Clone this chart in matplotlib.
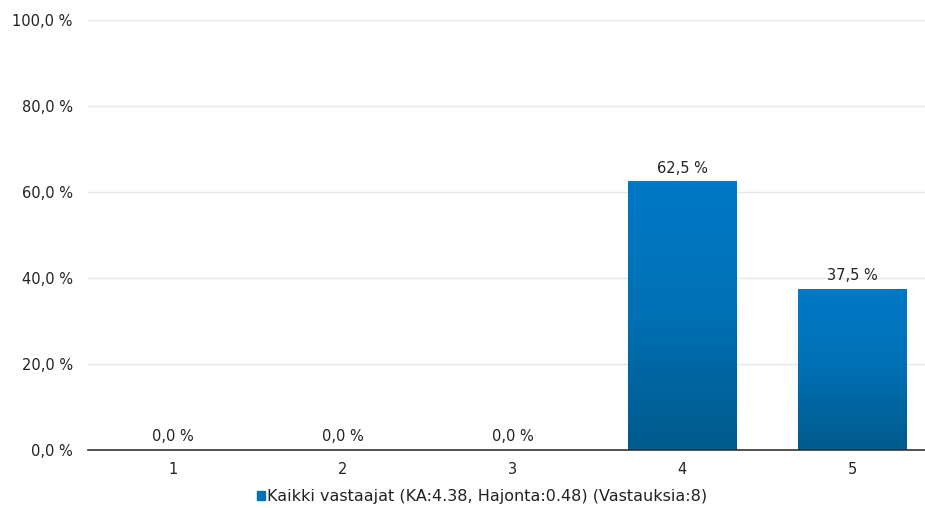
import numpy as np
import matplotlib
matplotlib.use('Agg')
import matplotlib.pyplot as plt
from matplotlib.colors import LinearSegmentedColormap
from matplotlib.patches import Rectangle

# --- Data ---
categories = ['1', '2', '3', '4', '5']
values = [0.0, 0.0, 0.0, 62.5, 37.5]
y_ticks = [0, 20, 40, 60, 80, 100]
series_label = 'Kaikki vastaajat (KA:4.38, Hajonta:0.48) (Vastauksia:8)'

plt.rcParams['font.family'] = ['DejaVu Sans']

fig = plt.figure(figsize=(9.25, 5.08), dpi=100, facecolor='white')
ax = fig.add_axes([88 / 925, 1 - 450 / 508, (937 - 88) / 925, (450 - 20) / 508])

x = np.arange(1, len(categories) + 1)
bar_w = 0.64
grad = LinearSegmentedColormap.from_list('g', ['#005a8c', '#0070b4', '#0079c6'])
gradient = np.linspace(0, 1, 256).reshape(-1, 1)

bars = ax.bar(x, values, width=bar_w, color='#0072b9', label=series_label, zorder=2)
for b in bars:
    h = b.get_height()
    if h <= 0:
        continue
    b.set_facecolor('none')
    im = ax.imshow(gradient, cmap=grad, aspect='auto', origin='lower',
                   extent=[b.get_x(), b.get_x() + b.get_width(), 0, h], zorder=2)
    im.set_clip_path(Rectangle((b.get_x(), 0), b.get_width(), h, transform=ax.transData))

for xi, v in zip(x, values):
    ax.annotate(f'{v:.1f} %'.replace('.', ','), (xi, v), xytext=(0, 4),
                textcoords='offset points', ha='center', va='bottom',
                fontsize=10.5, color='#222222')

ax.set_xlim(0.5, 5.5)
ax.set_ylim(0, 100)
ax.set_xticks(x)
ax.set_xticklabels(categories)
ax.set_yticks(y_ticks)
ax.set_yticklabels([f'{t:.1f} %'.replace('.', ',') for t in y_ticks])
ax.tick_params(axis='both', length=0, labelsize=10.5, colors='#222222')
ax.tick_params(axis='y', pad=11)
ax.tick_params(axis='x', pad=9)
ax.grid(axis='y', color='#e3e8ef', linewidth=1, zorder=0)
ax.set_axisbelow(True)
for s in ['top', 'right', 'left']:
    ax.spines[s].set_visible(False)
ax.spines['bottom'].set_color('#333333')
ax.spines['bottom'].set_linewidth(1.2)
ax.spines['bottom'].set_zorder(3)

handle = Rectangle((0, 0), 1, 1, color='#0072b9')
fig.legend([handle], [series_label], loc='center',
           bbox_to_anchor=(482 / 925, 1 - 497 / 508), frameon=False,
           fontsize=11.5, handlelength=0.5, handleheight=0.5, handletextpad=0.15,
           labelcolor='#222222')

fig.savefig('out.png', dpi=100, facecolor='white')
